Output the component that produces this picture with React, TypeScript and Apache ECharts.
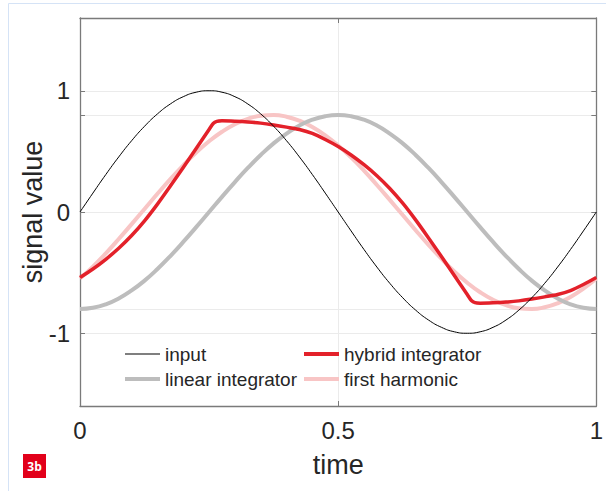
import React, { useEffect, useRef } from "react";
import * as echarts from "echarts";

// time grid for sinusoid-like curves (step 0.025)
const tGrid = [
  0, 0.025, 0.05, 0.075, 0.1, 0.125, 0.15, 0.175, 0.2, 0.225, 0.25, 0.275, 0.3, 0.325, 0.35, 0.375, 0.4,
  0.425, 0.45, 0.475, 0.5, 0.525, 0.55, 0.575, 0.6, 0.625, 0.65, 0.675, 0.7, 0.725, 0.75, 0.775, 0.8,
  0.825, 0.85, 0.875, 0.9, 0.925, 0.95, 0.975, 1,
];

const inputValues = [
  0, 0.156, 0.309, 0.454, 0.588, 0.707, 0.809, 0.891, 0.951, 0.988, 1, 0.988, 0.951, 0.891, 0.809, 0.707,
  0.588, 0.454, 0.309, 0.156, 0, -0.156, -0.309, -0.454, -0.588, -0.707, -0.809, -0.891, -0.951, -0.988,
  -1, -0.988, -0.951, -0.891, -0.809, -0.707, -0.588, -0.454, -0.309, -0.156, 0,
];

const linearValues = [
  -0.8, -0.79, -0.761, -0.713, -0.647, -0.566, -0.47, -0.363, -0.247, -0.125, 0, 0.125, 0.247, 0.363,
  0.47, 0.566, 0.647, 0.713, 0.761, 0.79, 0.8, 0.79, 0.761, 0.713, 0.647, 0.566, 0.47, 0.363, 0.247,
  0.125, 0, -0.125, -0.247, -0.363, -0.47, -0.566, -0.647, -0.713, -0.761, -0.79, -0.8,
];

const harmonicValues = [
  -0.548, -0.45, -0.341, -0.223, -0.1, 0.025, 0.15, 0.271, 0.385, 0.49, 0.583, 0.662, 0.724, 0.768,
  0.794, 0.8, 0.786, 0.753, 0.701, 0.632, 0.548, 0.45, 0.341, 0.223, 0.1, -0.025, -0.15, -0.271, -0.385,
  -0.49, -0.583, -0.662, -0.724, -0.768, -0.794, -0.8, -0.786, -0.753, -0.701, -0.632, -0.548,
];

// hybrid integrator (own time points to capture the corners)
const hybridTimes = [
  0, 0.025, 0.05, 0.075, 0.1, 0.125, 0.15, 0.175, 0.2, 0.225, 0.25, 0.258, 0.265, 0.275, 0.3, 0.325,
  0.35, 0.375, 0.4, 0.425, 0.45, 0.475, 0.5, 0.525, 0.55, 0.575, 0.6, 0.625, 0.65, 0.675, 0.7, 0.725,
  0.75, 0.758, 0.765, 0.775, 0.8, 0.825, 0.85, 0.875, 0.9, 0.925, 0.95, 0.975, 1,
];
const hybridValues = [
  -0.54, -0.47, -0.39, -0.299, -0.194, -0.073, 0.065, 0.214, 0.367, 0.523, 0.681, 0.73, 0.748, 0.752,
  0.749, 0.743, 0.733, 0.718, 0.7, 0.68, 0.648, 0.598, 0.54, 0.47, 0.39, 0.299, 0.194, 0.073, -0.065,
  -0.214, -0.367, -0.523, -0.681, -0.73, -0.748, -0.752, -0.749, -0.743, -0.733, -0.718, -0.7, -0.68,
  -0.648, -0.598, -0.54,
];

const xTicks = [0, 0.5, 1];
const yTicks = [-1, -0.8, 0, 0.8, 1];
const yLabels = [-1, 0, 1];

const FONT = "'Liberation Sans', Arial, Helvetica, sans-serif";
const TEXT = "#262626";
const AXIS = "#7a7a7a";

const C_INPUT = "#000000";
const C_LINEAR = "#bdbdbd";
const C_HYBRID = "#e3212a";
const C_HARM = "#f8c5c5";

function pairs(ts: number[], vs: number[]) {
  return ts.map((t, i) => [t, vs[i]]);
}

export default function App() {
  const ref = useRef<HTMLDivElement>(null);
  useEffect(() => {
    if (!ref.current) return;
    const chart = echarts.init(ref.current, undefined, { renderer: "svg" });
    const tickCommon = {
      show: true,
      inside: true,
      length: 5,
      lineStyle: { color: AXIS, width: 1 },
    };
    const legendCommon = {
      orient: "vertical",
      top: 344,
      padding: 0,
      itemWidth: 35,
      itemHeight: 14,
      itemGap: 5,
      selectedMode: false,
      itemStyle: { color: "rgba(0,0,0,0)", borderWidth: 0, opacity: 0 },
      textStyle: { fontSize: 19, lineHeight: 20, color: TEXT, fontFamily: FONT },
    };
    chart.setOption({
      animation: false,
      backgroundColor: "#ffffff",
      textStyle: { fontFamily: FONT },
      grid: { left: 80, top: 18, width: 522, height: 388, containLabel: false },
      xAxis: [
        {
          type: "value",
          min: 0,
          max: 1,
          interval: 0.5,
          position: "bottom",
          name: "time",
          nameLocation: "middle",
          nameGap: 45,
          nameMoveOverlap: false,
          nameTextStyle: { fontSize: 27, color: TEXT, fontFamily: FONT },
          axisLine: { show: true, onZero: false, lineStyle: { color: AXIS, width: 1.3 } },
          axisTick: { ...tickCommon, customValues: xTicks },
          axisLabel: {
            customValues: xTicks,
            fontSize: 24,
            color: TEXT,
            fontFamily: FONT,
            margin: 12,
            formatter: (v: number) => String(v),
          },
          splitLine: { show: true, lineStyle: { color: "#ebebeb", width: 1 } },
        },
        {
          type: "value",
          min: 0,
          max: 1,
          interval: 0.5,
          position: "top",
          axisLine: { show: true, onZero: false, lineStyle: { color: AXIS, width: 1.3 } },
          axisTick: { ...tickCommon, customValues: xTicks },
          axisLabel: { show: false },
          splitLine: { show: false },
        },
      ],
      yAxis: [
        {
          type: "value",
          min: -1.6,
          max: 1.6,
          interval: 0.2,
          position: "left",
          name: "signal value",
          nameLocation: "middle",
          nameGap: 34,
          nameMoveOverlap: false,
          nameRotate: 90,
          nameTextStyle: { fontSize: 27, color: TEXT, fontFamily: FONT },
          axisLine: { show: true, onZero: false, lineStyle: { color: AXIS, width: 1.3 } },
          axisTick: { ...tickCommon, customValues: yTicks },
          axisLabel: {
            customValues: yLabels,
            fontSize: 24,
            color: TEXT,
            fontFamily: FONT,
            margin: 10,
            formatter: (v: number) => String(v),
          },
          splitLine: { show: true, lineStyle: { color: "#ebebeb", width: 1 } },
        },
        {
          type: "value",
          min: -1.6,
          max: 1.6,
          interval: 0.2,
          position: "right",
          axisLine: { show: true, onZero: false, lineStyle: { color: AXIS, width: 1.3 } },
          axisTick: { ...tickCommon, customValues: yTicks },
          axisLabel: { show: false },
          splitLine: { show: false },
        },
      ],
      legend: [
        {
          ...legendCommon,
          data: [
            { name: "input", lineStyle: { width: 1.2, color: C_INPUT } },
            { name: "linear integrator", lineStyle: { width: 4, color: C_LINEAR } },
          ],
          left: 123,
        },
        {
          ...legendCommon,
          data: [
            { name: "hybrid integrator", lineStyle: { width: 4, color: C_HYBRID } },
            { name: "first harmonic", lineStyle: { width: 4, color: C_HARM } },
          ],
          left: 302,
        },
      ],
      series: [
        {
          name: "first harmonic",
          type: "line",
          data: pairs(tGrid, harmonicValues),
          smooth: true,
          showSymbol: false,
          symbol: "none",
          lineStyle: { color: C_HARM, width: 4 },
          itemStyle: { color: C_HARM },
        },
        {
          name: "linear integrator",
          type: "line",
          data: pairs(tGrid, linearValues),
          smooth: true,
          showSymbol: false,
          symbol: "none",
          lineStyle: { color: C_LINEAR, width: 4 },
          itemStyle: { color: C_LINEAR },
        },
        {
          name: "hybrid integrator",
          type: "line",
          data: pairs(hybridTimes, hybridValues),
          smooth: 0.3,
          showSymbol: false,
          symbol: "none",
          lineStyle: { color: C_HYBRID, width: 3.5, join: "round" },
          itemStyle: { color: C_HYBRID },
        },
        {
          name: "input",
          type: "line",
          data: pairs(tGrid, inputValues),
          smooth: true,
          showSymbol: false,
          symbol: "none",
          lineStyle: { color: C_INPUT, width: 1 },
          itemStyle: { color: C_INPUT },
        },
      ],
      graphic: [
        {
          type: "rect",
          silent: true,
          z: -10,
          shape: { x: 8.5, y: 3.5, width: 700, height: 600 },
          style: { fill: "none", stroke: "#d5e3f6", lineWidth: 1 },
        },
        {
          type: "rect",
          silent: true,
          shape: { x: 23, y: 454, width: 23, height: 24 },
          style: { fill: "#e2001a" },
        },
        {
          type: "text",
          silent: true,
          x: 34.5,
          y: 466,
          style: {
            text: "3b",
            fill: "#ffffff",
            font: "bold 12px 'Open Sans', 'Liberation Sans', Arial, sans-serif",
            align: "center",
            verticalAlign: "middle",
          },
        },
      ],
    });
    return () => chart.dispose();
  }, []);
  return (
    <div
      ref={ref}
      style={{ position: "absolute", left: 0, top: 0, width: 606, height: 491 }}
    />
  );
}
